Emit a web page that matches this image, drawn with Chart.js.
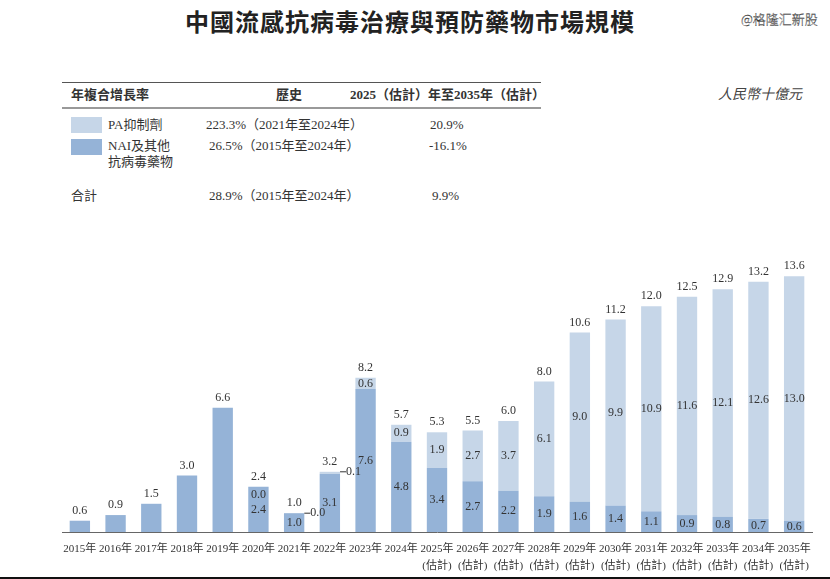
<!DOCTYPE html>
<html>
<head>
<meta charset="utf-8">
<script src="https://cdn.jsdelivr.net/npm/chart.js@4.4.1/dist/chart.umd.min.js"></script>
<style>
  body { margin: 0; background: #fff; width: 830px; height: 579px; overflow: hidden; position: relative;
         font-family: 'Liberation Serif', 'Noto Sans CJK TC', serif; color: #333; }
  .t { position: absolute; white-space: nowrap; font-size: 13px; line-height: 16px; }
  #title { position: absolute; left: 0; width: 820px; top: 3px; text-align: center; font-size: 24px; font-weight: bold;
           letter-spacing: 1px; color: #222; }
  #mark { position: absolute; left: 741px; top: 9px; font-size: 13px; color: #fff; font-family: 'Noto Sans CJK SC', sans-serif;
          font-weight: 300; -webkit-text-stroke: 0.3px #000; }
  .sw { position: absolute; left: 71px; width: 31px; height: 16px; }
  #wrap { position: absolute; left: 0; top: 0; width: 830px; height: 585px; }
</style>
</head>
<body>
<div id="title">中國流感抗病毒治療與預防藥物市場規模</div>
<div id="mark">@格隆汇新股</div>

<div style="position:absolute;left:62px;top:82px;width:479px;height:1px;background:#555"></div>
<div class="t" style="left:71px;top:87px;font-weight:bold">年複合增長率</div>
<div class="t" style="left:276px;top:87px;font-weight:bold">歷史</div>
<div class="t" style="left:350px;top:87px;font-weight:bold">2025（估計）年至2035年（估計）</div>
<div class="t" style="left:718px;top:87px;font-size:14px;font-style:italic;color:#444">人民幣十億元</div>
<div style="position:absolute;left:62px;top:107px;width:479px;height:2px;background:#999"></div>

<div class="sw" style="top:117px;background:#c6d6e8"></div>
<div class="t" style="left:108px;top:117px">PA抑制劑</div>
<div class="t" style="left:206px;top:117px">223.3%（2021年至2024年）</div>
<div class="t" style="left:430px;top:117px">20.9%</div>

<div class="sw" style="top:139px;background:#95b3d7"></div>
<div class="t" style="left:108px;top:138px">NAI及其他</div>
<div class="t" style="left:108px;top:154px">抗病毒藥物</div>
<div class="t" style="left:209px;top:138px">26.5%（2015年至2024年）</div>
<div class="t" style="left:429px;top:138px">-16.1%</div>

<div class="t" style="left:71px;top:188px">合計</div>
<div class="t" style="left:209px;top:188px">28.9%（2015年至2024年）</div>
<div class="t" style="left:432px;top:188px">9.9%</div>

<div id="wrap"><canvas id="c"></canvas></div>
<div style="position:absolute;left:0;top:577px;width:830px;height:2px;background:#111"></div>

<script>
const years = ['2015年','2016年','2017年','2018年','2019年','2020年','2021年','2022年','2023年','2024年',
               '2025年','2026年','2027年','2028年','2029年','2030年','2031年','2032年','2033年','2034年','2035年'];
const isEstimate = [false,false,false,false,false,false,false,false,false,false,
                    true,true,true,true,true,true,true,true,true,true,true];
const naiValues = [0.6,0.9,1.5,3.0,6.6,2.4,1.0,3.1,7.6,4.8,3.4,2.7,2.2,1.9,1.6,1.4,1.1,0.9,0.8,0.7,0.6];
const paValues = [null,null,null,null,null,0.0,0.0,0.1,0.6,0.9,1.9,2.7,3.7,6.1,9.0,9.9,10.9,11.6,12.1,12.6,13.0];
const totals = [0.6,0.9,1.5,3.0,6.6,2.4,1.0,3.2,8.2,5.7,5.3,5.5,6.0,8.0,10.6,11.2,12.0,12.5,12.9,13.2,13.6];

const labels = years.map((y, i) => isEstimate[i] ? [y, '(估計)'] : y);
const FONT = "'Liberation Serif', 'Noto Sans CJK TC', serif";

const barLabels = {
  id: 'barLabels',
  afterDatasetsDraw(chart) {
    const ctx = chart.ctx;
    const nai = chart.getDatasetMeta(0).data;
    const pa = chart.getDatasetMeta(1).data;
    ctx.save();
    ctx.fillStyle = '#333';
    ctx.strokeStyle = '#333';
    ctx.font = '12px ' + FONT;
    ctx.textAlign = 'center';
    ctx.textBaseline = 'middle';
    totals.forEach((t, i) => {
      const top = paValues[i] !== null ? pa[i].y : nai[i].y;
      ctx.fillText(t.toFixed(1), nai[i].x, top - 10);
      if (paValues[i] === null) return;
      const n = nai[i];
      ctx.fillText(naiValues[i].toFixed(1), n.x, (n.y + n.base) / 2);
      const p = pa[i];
      if (paValues[i] >= 0.5) {
        ctx.fillText(paValues[i].toFixed(1), p.x, (p.y + p.base) / 2);
      } else if (i === 5) {
        ctx.fillText(paValues[i].toFixed(1), p.x, p.y + 8);
      } else {
        // small PA values sit beside the bar with a short tick
        const right = p.x + p.width / 2;
        ctx.beginPath();
        ctx.lineWidth = 1;
        ctx.moveTo(right, p.y);
        ctx.lineTo(right + 6, p.y);
        ctx.stroke();
        ctx.textAlign = 'left';
        ctx.fillText(paValues[i].toFixed(1), right + 6, p.y);
        ctx.textAlign = 'center';
      }
    });
    ctx.restore();
  }
};

new Chart(document.getElementById('c'), {
  type: 'bar',
  data: {
    labels: labels,
    datasets: [
      { label: 'NAI及其他抗病毒藥物', data: naiValues, backgroundColor: '#95b3d7' },
      { label: 'PA抑制劑', data: paValues, backgroundColor: '#c6d6e8' }
    ]
  },
  options: {
    responsive: true,
    maintainAspectRatio: false,
    animation: false,
    layout: { padding: { left: 62, right: 18, top: 231, bottom: 2 } },
    datasets: { bar: { categoryPercentage: 1, barPercentage: 0.57 } },
    plugins: { legend: { display: false }, tooltip: { enabled: false } },
    scales: {
      x: {
        stacked: true,
        grid: { display: false, drawTicks: false },
        border: { color: '#666', width: 1 },
        ticks: { color: '#333', font: { family: FONT, size: 11, lineHeight: 1.5 }, padding: 9, maxRotation: 0, autoSkip: false }
      },
      y: { stacked: true, display: false, min: 0, max: 16 }
    }
  },
  plugins: [barLabels]
});
</script>
</body>
</html>
